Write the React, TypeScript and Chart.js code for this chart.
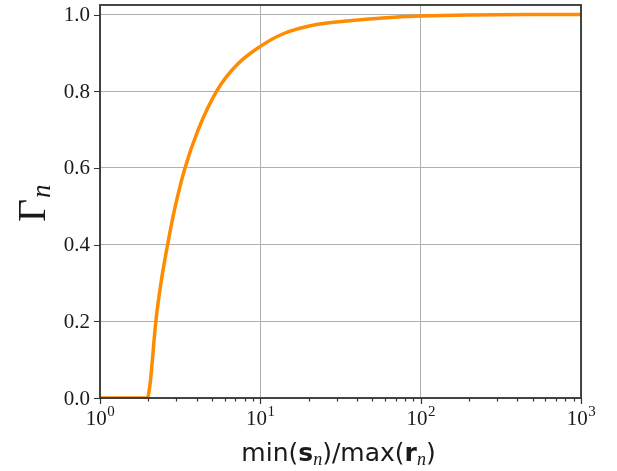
import React, { useEffect, useRef } from 'react';
import { Chart, registerables } from 'chart.js';

Chart.register(...registerables);

// ---- data ----
const ratioValues = [1, 1.5, 1.97, 2.05, 2.23, 2.4, 2.64, 2.93, 3.39, 4.1, 5.33, 7.1, 10, 13.9, 22.4, 36.1, 58.2, 100, 200, 500, 1000];
const gammaValues = [0, 0, 0, 0.035, 0.2, 0.3, 0.4, 0.495, 0.6, 0.7, 0.8, 0.868, 0.917, 0.95, 0.974, 0.984, 0.991, 0.996, 0.999, 1.0, 1.0];

const xMajorTicks = [1, 10, 100, 1000];
const xTickExponents = ['0', '1', '2', '3'];
const xMinorTicks = [2, 3, 4, 5, 6, 7, 8, 9, 20, 30, 40, 50, 60, 70, 80, 90, 200, 300, 400, 500, 600, 700, 800, 900];
const yTicks = [0, 0.2, 0.4, 0.6, 0.8, 1.0];
const yTickLabels = ['0.0', '0.2', '0.4', '0.6', '0.8', '1.0'];

const SERIF = '"Liberation Serif", "DejaVu Serif", serif';
const SANS = '"DejaVu Sans", sans-serif';
const TEXT = '#1a1a1a';
const AXIS = '#333333';

const axesPlugin = {
  id: 'mplAxes',
  afterDraw(chart: any) {
    const { ctx, chartArea: a, scales } = chart;
    const xs = scales.x;
    const ys = scales.y;
    ctx.save();

    // tick marks
    ctx.strokeStyle = AXIS;
    ctx.lineWidth = 1.2;
    ctx.beginPath();
    xMajorTicks.forEach((v) => {
      const px = Math.round(xs.getPixelForValue(v)) + 0.5;
      ctx.moveTo(px, a.bottom);
      ctx.lineTo(px, a.bottom + 6);
    });
    xMinorTicks.forEach((v) => {
      const px = Math.round(xs.getPixelForValue(v)) + 0.5;
      ctx.moveTo(px, a.bottom);
      ctx.lineTo(px, a.bottom + 3.5);
    });
    yTicks.forEach((v) => {
      const py = Math.round(ys.getPixelForValue(v)) + 0.5;
      ctx.moveTo(a.left, py);
      ctx.lineTo(a.left - 6, py);
    });
    ctx.stroke();

    // frame
    ctx.lineWidth = 1.8;
    ctx.strokeRect(a.left, a.top, a.right - a.left, a.bottom - a.top);

    ctx.fillStyle = TEXT;

    // y tick labels
    ctx.font = `21px ${SERIF}`;
    ctx.textAlign = 'right';
    ctx.textBaseline = 'middle';
    yTicks.forEach((v, i) => {
      ctx.fillText(yTickLabels[i], a.left - 10, ys.getPixelForValue(v) + 1);
    });

    // x tick labels 10^k
    ctx.textAlign = 'left';
    ctx.textBaseline = 'alphabetic';
    xMajorTicks.forEach((v, i) => {
      const px = xs.getPixelForValue(v);
      ctx.font = `21px ${SERIF}`;
      const w1 = ctx.measureText('10').width;
      ctx.font = `15px ${SERIF}`;
      const w2 = ctx.measureText(xTickExponents[i]).width;
      const start = px - (w1 + w2) / 2;
      ctx.font = `21px ${SERIF}`;
      ctx.fillText('10', start, a.bottom + 27);
      ctx.font = `15px ${SERIF}`;
      ctx.fillText(xTickExponents[i], start + w1 + 0.5, a.bottom + 18);
    });

    // x axis title: min(s_n)/max(r_n)
    const parts: { t: string; f: string; dy: number }[] = [
      { t: 'min(', f: `25px ${SANS}`, dy: 0 },
      { t: 's', f: `bold 25px ${SANS}`, dy: 0 },
      { t: 'n', f: `italic 18px ${SERIF}`, dy: 4 },
      { t: ')/max(', f: `25px ${SANS}`, dy: 0 },
      { t: 'r', f: `bold 25px ${SANS}`, dy: 0 },
      { t: 'n', f: `italic 18px ${SERIF}`, dy: 4 },
      { t: ')', f: `25px ${SANS}`, dy: 0 },
    ];
    let total = 0;
    const widths = parts.map((p) => {
      ctx.font = p.f;
      const w = ctx.measureText(p.t).width;
      total += w;
      return w;
    });
    let cx = (a.left + a.right) / 2 - total / 2 - 2;
    const base = a.bottom + 63;
    parts.forEach((p, i) => {
      ctx.font = p.f;
      ctx.fillText(p.t, cx, base + p.dy);
      cx += widths[i];
    });

    // y axis title: Gamma_n
    ctx.save();
    ctx.translate(45, 222);
    ctx.rotate(-Math.PI / 2);
    ctx.font = `40px ${SERIF}`;
    ctx.fillText('Γ', 0, 0);
    const gw = ctx.measureText('Γ').width;
    ctx.font = `italic 27px ${SERIF}`;
    ctx.fillText('n', gw + 1, 5);
    ctx.restore();

    ctx.restore();
  },
};

export default function App() {
  const canvasRef = useRef<HTMLCanvasElement | null>(null);

  useEffect(() => {
    if (!canvasRef.current) return;
    const points = ratioValues.map((x, i) => ({ x, y: gammaValues[i] }));
    const chart = new Chart(canvasRef.current, {
      type: 'line',
      data: {
        datasets: [
          {
            data: points,
            borderColor: '#ff8c00',
            borderWidth: 3.5,
            pointRadius: 0,
            fill: false,
            cubicInterpolationMode: 'monotone',
          },
        ],
      },
      options: {
        animation: false,
        responsive: true,
        maintainAspectRatio: false,
        layout: { padding: { left: 100, right: 36, top: 5, bottom: 73 } },
        plugins: { legend: { display: false }, tooltip: { enabled: false } },
        scales: {
          x: {
            type: 'logarithmic',
            min: 1,
            max: 1000,
            afterBuildTicks: (scale: any) => {
              scale.ticks = xMajorTicks.map((v) => ({ value: v }));
            },
            ticks: { display: false },
            border: { display: false },
            grid: { color: '#b0b0b0', lineWidth: 1, drawTicks: false },
          },
          y: {
            type: 'linear',
            min: 0,
            max: 1.025,
            afterBuildTicks: (scale: any) => {
              scale.ticks = yTicks.map((v) => ({ value: v }));
            },
            ticks: { display: false },
            border: { display: false },
            grid: { color: '#b0b0b0', lineWidth: 1, drawTicks: false },
          },
        },
      },
      plugins: [axesPlugin],
    });
    return () => chart.destroy();
  }, []);

  return (
    <div style={{ position: 'fixed', left: 0, top: 0, width: 617, height: 471, background: '#fff' }}>
      <canvas ref={canvasRef} />
    </div>
  );
}
